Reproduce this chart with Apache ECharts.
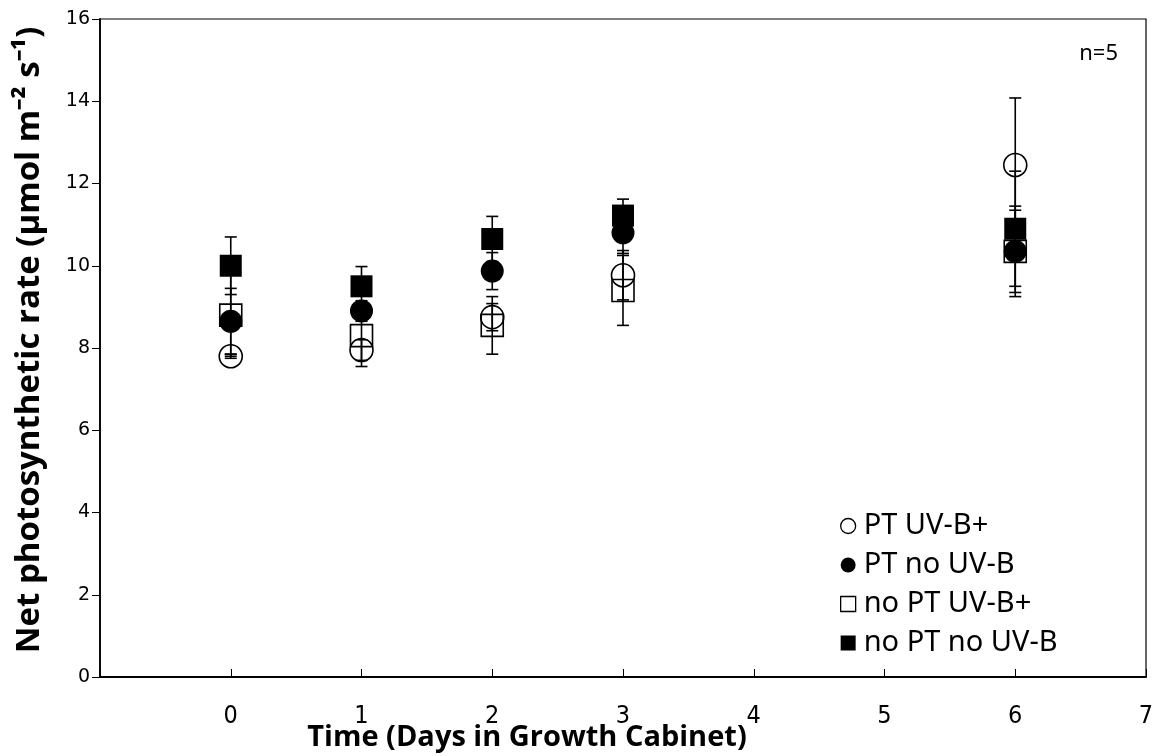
<!DOCTYPE html>
<html>
<head>
<meta charset="utf-8">
<script src="https://cdn.jsdelivr.net/npm/echarts@6/dist/echarts.min.js"></script>
<style>
html,body{margin:0;padding:0;background:#fff;}
#chart{width:1162px;height:756px;}
</style>
</head>
<body>
<div id="chart"></div>
<script>
// ---- data ----
const days = [0, 1, 2, 3, 6];
const seriesNames = ['PT UV-B+', 'PT no UV-B', 'no PT UV-B+', 'no PT no UV-B'];
const ptUVB = [7.8, 7.95, 8.75, 9.77, 12.45];
const ptUVBErr = [0.05, 0.25, 0.33, 0.6, 1.63];
const ptNoUVB = [8.65, 8.9, 9.87, 10.8, 10.35];
const ptNoUVBErr = [0.8, 0.25, 0.45, 0.5, 1.0];
const noPtUVB = [8.8, 8.3, 8.55, 9.4, 10.35];
const noPtUVBErr = [1.0, 0.75, 0.7, 0.85, 1.1];
const noPtNoUVB = [10.0, 9.5, 10.65, 11.22, 10.9];
const noPtNoUVBErr = [0.7, 0.48, 0.55, 0.4, 1.4];
const xTicks = [-1, 0, 1, 2, 3, 4, 5, 6, 7];
const yTicks = [0, 2, 4, 6, 8, 10, 12, 14, 16];

const groups = [
  {name: seriesNames[0], vals: ptUVB, errs: ptUVBErr, symbol: 'circle', filled: false},
  {name: seriesNames[1], vals: ptNoUVB, errs: ptNoUVBErr, symbol: 'circle', filled: true},
  {name: seriesNames[2], vals: noPtUVB, errs: noPtUVBErr, symbol: 'rect', filled: false},
  {name: seriesNames[3], vals: noPtNoUVB, errs: noPtNoUVBErr, symbol: 'rect', filled: true}
];

const chart = echarts.init(document.getElementById('chart'), null, {renderer: 'canvas'});

const series = [];
groups.forEach(function (g) {
  series.push({
    type: 'custom',
    name: g.name + ' err',
    z: 1,
    silent: true,
    data: days.map(function (d, i) { return [d, g.vals[i] - g.errs[i], g.vals[i] + g.errs[i]]; }),
    renderItem: function (params, api) {
      const x = api.value(0);
      const lo = api.coord([x, api.value(1)]);
      const hi = api.coord([x, api.value(2)]);
      const cap = 6;
      const st = {stroke: '#000', lineWidth: 1.6, fill: null};
      return {
        type: 'group',
        children: [
          {type: 'line', shape: {x1: lo[0], y1: lo[1], x2: hi[0], y2: hi[1]}, style: st},
          {type: 'line', shape: {x1: lo[0] - cap, y1: lo[1], x2: lo[0] + cap, y2: lo[1]}, style: st},
          {type: 'line', shape: {x1: hi[0] - cap, y1: hi[1], x2: hi[0] + cap, y2: hi[1]}, style: st}
        ]
      };
    }
  });
});
groups.forEach(function (g, k) {
  series.push({
    type: 'scatter',
    name: g.name,
    z: 2 + k,
    symbol: g.symbol,
    symbolSize: g.symbol === 'rect' ? 22 : 23,
    itemStyle: g.filled
      ? {color: '#000', borderColor: '#000', borderWidth: 0, opacity: 1}
      : {color: 'rgba(255,255,255,0)', borderColor: '#000', borderWidth: 1.6, opacity: 1},
    emphasis: {disabled: true},
    data: days.map(function (d, i) { return [d, g.vals[i]]; })
  });
});

const option = {
  animation: false,
  backgroundColor: '#fff',
  grid: {left: 100, right: 16, top: 19, bottom: 79, show: true, borderColor: '#000', borderWidth: 1.2, backgroundColor: 'transparent'},
  xAxis: {
    type: 'value', min: xTicks[0], max: xTicks[xTicks.length - 1], interval: 1,
    axisLine: {show: true, onZero: false, lineStyle: {color: '#000', width: 1.8}},
    axisTick: {show: true, inside: true, length: 8, lineStyle: {color: '#000', width: 1}},
    splitLine: {show: false},
    axisLabel: {
      margin: 27, color: '#000', fontSize: 25, fontFamily: '"Liberation Sans Narrow", "DejaVu Sans Condensed", sans-serif',
      formatter: function (v) { return v < 0 ? '' : String(v); }
    }
  },
  yAxis: {
    type: 'value', min: yTicks[0], max: yTicks[yTicks.length - 1], interval: 2,
    axisLine: {show: true, onZero: false, lineStyle: {color: '#000', width: 1.8}},
    axisTick: {show: true, inside: false, length: 8, lineStyle: {color: '#000', width: 1}},
    splitLine: {show: false},
    axisLabel: {margin: 10, color: '#000', fontSize: 19, fontFamily: '"DejaVu Sans", sans-serif'}
  },
  legend: {
    show: true,
    orient: 'vertical',
    left: 835,
    top: 506,
    itemWidth: 15,
    itemHeight: 15,
    itemGap: 9,
    selectedMode: false,
    textStyle: {color: '#000', fontSize: 29, fontFamily: '"Noto Sans", sans-serif', lineHeight: 30, padding: [0, 0, 0, 3]},
    data: [
      {name: seriesNames[0], icon: 'circle', itemStyle: {color: '#fff', borderColor: '#000', borderWidth: 1.3}},
      {name: seriesNames[1], icon: 'circle', itemStyle: {color: '#000', borderWidth: 0}},
      {name: seriesNames[2], icon: 'rect', itemStyle: {color: '#fff', borderColor: '#000', borderWidth: 1.3}},
      {name: seriesNames[3], icon: 'rect', itemStyle: {color: '#000', borderWidth: 0}}
    ]
  },
  graphic: [
    {type: 'text', x: 527, y: 738, z: 10, style: {text: 'Time (Days in Growth Cabinet)', fill: '#000', font: 'bold 29px "Open Sans", sans-serif', textAlign: 'center', textVerticalAlign: 'middle'}},
    {type: 'text', x: 30, y: 340, rotation: Math.PI / 2, z: 10, style: {text: 'Net photosynthetic rate (μmol m⁻² s⁻¹)', fill: '#000', font: 'bold 33px "Open Sans", sans-serif', textAlign: 'center', textVerticalAlign: 'middle'}},
    {type: 'text', x: 1118, y: 54, z: 10, style: {text: 'n=5', fill: '#000', font: '22px "Noto Sans", sans-serif', textAlign: 'right', textVerticalAlign: 'middle'}}
  ],
  series: series
};
chart.setOption(option);
</script>
</body>
</html>
